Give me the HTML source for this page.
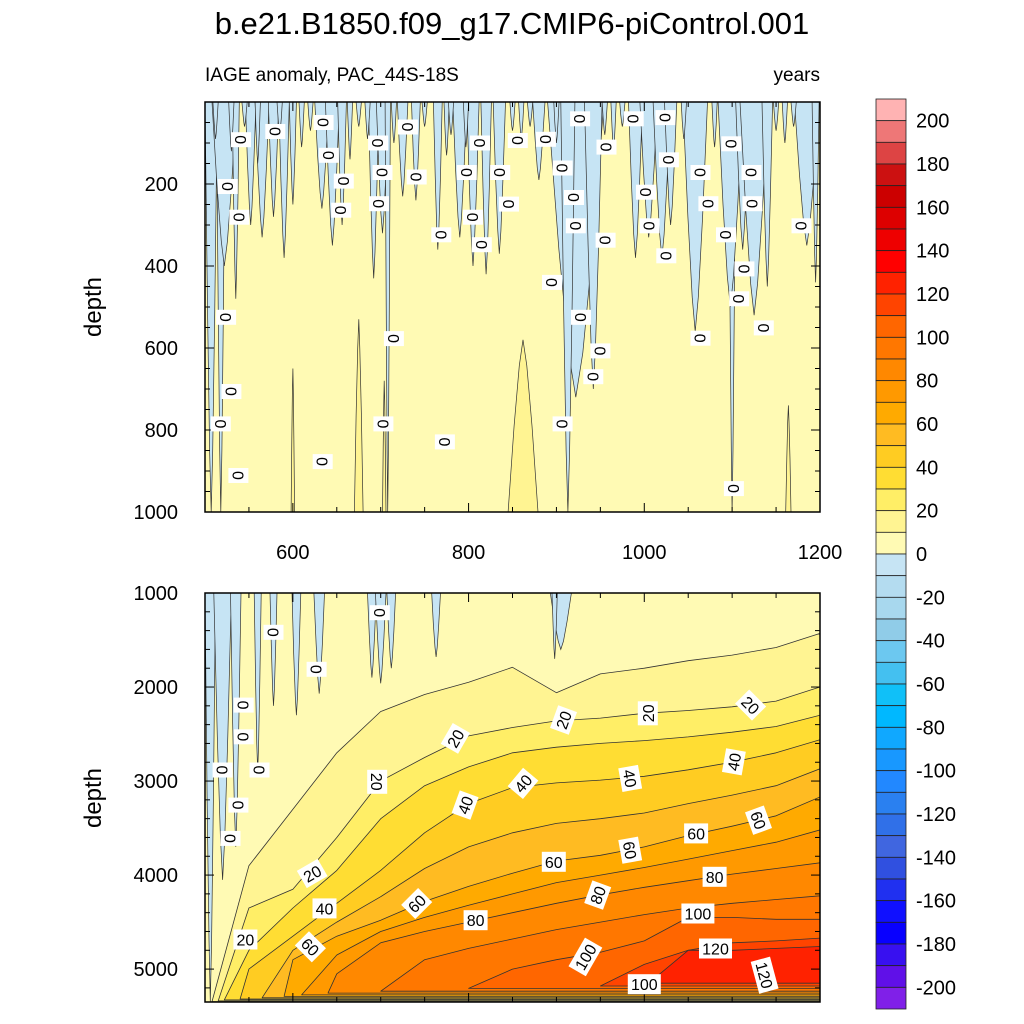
<!DOCTYPE html>
<html><head><meta charset="utf-8"><style>
html,body{margin:0;padding:0;background:#fff}
svg{display:block;font-family:"Liberation Sans",sans-serif}
</style></head><body>
<svg id="chart" width="1024" height="1024" viewBox="0 0 1024 1024" xmlns="http://www.w3.org/2000/svg">
<text x="512" y="34" font-size="31" text-anchor="middle">b.e21.B1850.f09_g17.CMIP6-piControl.001</text>
<text x="205" y="81" font-size="19">IAGE anomaly, PAC_44S-18S</text>
<text x="820" y="81" font-size="19" text-anchor="end">years</text>
<text transform="translate(101,307) rotate(-90)" font-size="24" text-anchor="middle">depth</text>
<text transform="translate(101,798) rotate(-90)" font-size="24" text-anchor="middle">depth</text>
<defs>
<clipPath id="clipTop"><rect x="205" y="102" width="615" height="410"/></clipPath>
<clipPath id="clipBot"><rect x="205" y="593" width="615" height="409"/></clipPath>
</defs>
<g id="topPlot" clip-path="url(#clipTop)"></g>
<g id="botPlot" clip-path="url(#clipBot)"></g>
<g id="axes"></g>
<g id="labels"></g>
<g id="cbar"></g>
</svg>
<script>
// ---- data ----
const years = [500,550,600,650,700,750,800,850,900,950,1000,1050,1100,1150,1200];
const levels = [10,20,30,40,50,60,70,80,90,100,110,120];
const startYear = [508,515,522,540,565,590,610,640,700,800,950,1005];
const upper10 = [null,3900,3300,2700,2260,2080,1950,1790,2060,1860,1800,1720,1660,1580,1430];
const upper20 = [null,4350,4150,3600,3000,2750,2520,2430,2360,2330,2280,2250,2210,2150,2000];
const upper30 = [null,4800,4350,3950,3400,3050,2850,2700,2640,2600,2570,2530,2480,2420,2300];
const upper40 = [null,5000,4650,4300,3950,3550,3240,3070,3020,2990,2950,2880,2800,2700,2560];
const upper50 = [null,null,4800,4500,4230,3930,3700,3550,3450,3400,3340,3240,3150,3050,2870];
const upper60 = [null,null,4900,4650,4480,4280,4120,3980,3850,3790,3700,3580,3480,3370,3170];
const upper70 = [null,null,null,4850,4600,4450,4320,4200,4080,4000,3920,3830,3740,3650,3520];
const upper80 = [null,null,null,5050,4720,4600,4500,4400,4300,4210,4130,4060,3990,3930,3870];
const upper90 = [null,null,null,null,5150,4900,4780,4680,4580,4500,4420,4350,4300,4260,4220];
const upper100 = [null,null,null,null,null,null,5150,5000,4900,4820,4700,4450,4450,4470,4470];
const upper110 = [null,null,null,null,null,null,null,null,null,5150,4950,4800,4720,4700,4670];
const upper120 = [null,null,null,null,null,null,null,null,null,null,5150,4800,4800,4780,4760];
const lowerDepth = [5346,5338,5328,5318,5305,5290,5275,5255,5235,5205,5180,5150];
const upperAll = [upper10,upper20,upper30,upper40,upper50,upper60,upper70,upper80,upper90,upper100,upper110,upper120];

// top panel negative (blue) features: center year, half width (years), max depth
const topBlueYear  = [507,518,522,535,552,565,578,590,600,633,645,656,692,702,708,725,740,765,790,805,820,835,880,922,913,942,990,1005,1020,1030,1058,1100,1098,1112,1125,1140,1185,1195,512,530,545,560,585,610,620,665,675,685,715,750,775,780,797,850,860,870,900,955,965,975,1045,1080,1150,1160,1170];
const topBlueHalf  = [7,5,14,4,6,8,6,6,4,8,8,5,6,7,3,6,5,5,8,7,6,7,7,32,8,10,8,10,10,7,14,4,14,8,16,6,14,4,3,3,3,3,3,3,3,3,3,3,3,3,3,3,3,3,3,3,3,3,3,3,3,3,3,3,3];
const topBlueDepth = [1000,1000,400,480,300,330,280,380,250,260,350,300,430,320,1000,230,240,360,330,400,420,370,190,720,1000,700,380,330,380,300,560,1000,500,360,520,450,350,440,90,120,60,150,80,110,70,140,60,90,100,60,130,80,110,70,90,60,100,80,120,60,90,110,70,100,60];
// top panel 10-20 patches rising from bottom: center, half width, top depth
const topYelYear  = [600,675,704,862,1164];
const topYelHalf  = [2,5,2,17,3];
const topYelDepth = [650,530,680,580,740];
// bottom panel negative features from 1000m down
const botBlueYear  = [506,520,535,560,578,604,630,690,700,712,763,905,898];
const botBlueHalf  = [6,10,6,4,4,5,6,5,6,5,5,12,3];
const botBlueDepth = [5350,4050,3700,2900,2200,2300,2070,1900,1960,1800,1680,1600,1700];

// contour labels
const topLabYear  = [541,580,635,641,658,655,697,702,698,731,741,526,539,769,798,813,805,815,836,846,856,888,907,927,920,922,957,956,988,1024,1028,1002,1006,1025,1064,1073,1099,1122,1123,1093,1114,1108,1064,1136,1179,895,928,950,942,907,524,530,518,538,715,703,773,634,1102];
const topLabDepth = [92,72,50,130,193,264,100,172,248,61,183,206,281,324,172,100,281,348,172,249,94,91,161,41,233,302,110,337,41,38,141,220,302,375,172,248,102,172,248,324,407,480,576,551,302,440,525,607,670,785,525,706,785,911,577,785,829,877,943];
const botLabYear  = [578,627,699,544,544,562,520,538,529, 622,696,785,908,1004,1121,546, 636,796,862,984,1102, 620,741,897,984,1059,1130, 808,947,1080, 1061,933,1000, 1081,1137];
const botLabDepth = [1418,1812,1209,2192,2529,2883,2883,3256,3610, 3983,3008,2546,2351,2280,2192,4685, 4355,3256,3025,2972,2795, 4763,4302,3859,3735,3557,3416, 4480,4213,4018, 4409,4870,5161, 4781,5065];
const botLabText  = ["0","0","0","0","0","0","0","0","0", "20","20","20","20","20","20","20", "40","40","40","40","40", "60","60","60","60","60","60", "80","80","80", "100","100","100", "120","120"];
const botLabAngle = [90,90,90,90,90,90,90,90,90, -30,90,-60,-70,-90,45,0, 0,-70,-50,80,-80, 45,-45,0,80,0,70, 0,-70,0, 0,-60,0, 0,75];

const cbLabels = [200,180,160,140,120,100,80,60,40,20,0,-20,-40,-60,-80,-100,-120,-140,-160,-180,-200];
const cbColors = ["#ffb3b3","#ee7777","#dd4444","#cc1111","#cc0000","#dd0000","#ee0000","#ff0000","#ff2200","#ff4400","#ff6600","#ff7700","#ff8800","#ff9900","#ffaa00","#ffbb22","#ffcc22","#ffdd33","#ffee66","#fff492","#fffab4",
"#c6e4f4","#b4dcf0","#a8d8ee","#90cce8","#6cc8f0","#44c0f0","#10c0f8","#00b8ff","#10a8ff","#1898ff","#2288ff","#2a80f0","#3070e8","#4066e0","#3050e0","#2030f0","#1010ff","#0800ff","#3810f0","#6010e8","#8020e8"];

// ---- scales ----
const X0=205,X1=820;
const xS = yr => X0 + (yr-500)*(X1-X0)/700;
const yT = d => 102 + d*410/1000;
const yB = d => 593 + (d-1000)*409/4350;
const NS="http://www.w3.org/2000/svg";
function mk(tag, attrs, parent){const e=document.createElementNS(NS,tag);for(const k in attrs)e.setAttribute(k,attrs[k]);parent.appendChild(e);return e;}
const levelColor = lv => cbColors[20 - lv/10];
const BLUE = cbColors[21];
const BASE = cbColors[20];

function spikePts(c,h,d,ys,fromD){
  const f = t => fromD + (d-fromD)*t;
  return [[c-h,fromD],[c-0.6*h,f(0.5)],[c-0.25*h,f(0.85)],[c,d],[c+0.25*h,f(0.85)],[c+0.6*h,f(0.5)],[c+h,fromD]]
    .map(p=>xS(p[0]).toFixed(1)+","+ys(p[1]).toFixed(1)).join(" ");
}

// ---- top panel ----
const topG = document.getElementById('topPlot');
let rr = mk('rect',{x:205,y:102,width:615,height:410,fill:BASE},topG);


for(let i=0;i<topYelYear.length;i++){
  const p = mk('polygon',{points:spikePts(topYelYear[i],topYelHalf[i],topYelDepth[i],yT,1000),fill:levelColor(10),stroke:'#333','stroke-width':0.7},topG);
  
  
}
for(let i=0;i<topBlueYear.length;i++){
  const p = mk('polygon',{points:spikePts(topBlueYear[i],topBlueHalf[i],topBlueDepth[i],yT,0),fill:BLUE,stroke:'#333','stroke-width':0.7},topG);
  
  
}

// ---- bottom panel ----
const botG = document.getElementById('botPlot');
rr = mk('rect',{x:205,y:593,width:615,height:409,fill:BASE},botG);


for(let li=0;li<levels.length;li++){
  const up = upperAll[li];
  const pts = [[startYear[li],lowerDepth[li]]];
  for(let j=0;j<years.length;j++){ if(up[j]!==null && years[j]>startYear[li]) pts.push([years[j],up[j]]); }
  pts.push([1200,lowerDepth[li]]);
  const s = pts.map(p=>xS(p[0]).toFixed(1)+","+yB(p[1]).toFixed(1)).join(" ");
  const p = mk('polygon',{points:s,fill:levelColor(levels[li]),stroke:'#333','stroke-width':0.8,'stroke-linejoin':'round'},botG);
  
  
}
for(let i=0;i<botBlueYear.length;i++){
  const p = mk('polygon',{points:spikePts(botBlueYear[i],botBlueHalf[i],botBlueDepth[i],yB,1000),fill:BLUE,stroke:'#333','stroke-width':0.7},botG);
  
  
}

// ---- axes ----
const axG = document.getElementById('axes');
function ln(x1,y1,x2,y2,w,parent){return mk('line',{x1,y1,x2,y2,stroke:'#000','stroke-width':w},parent);}
[[102,512],[593,1002]].forEach(([t,b],pi)=>{
  const fr = mk('rect',{x:205,y:t,width:615,height:b-t,fill:'none',stroke:'#000','stroke-width':1.5},axG);
  
  
  for(let yr=500;yr<=1200;yr+=50){
    const x=xS(yr), L=(yr%200===0)?9:5;
    ln(x,t,x,t+L,1,axG); ln(x,b,x,b-L,1,axG);
  }
});
const topTicks=[200,400,600,800,1000];
for(let d=0;d<=1000;d+=50){const y=yT(d),L=(d%200===0)?9:5;ln(205,y,205+L,y,1,axG);ln(820,y,820-L,y,1,axG);}
topTicks.forEach(d=>{const t=mk('text',{x:178,y:yT(d)+7,'font-size':20,'text-anchor':'end'},axG);t.textContent=d;
  
  });
const botTicks=[1000,2000,3000,4000,5000];
for(let d=1000;d<=5350;d+=200){const y=yB(d),L=(d%1000===0)?9:5;ln(205,y,205+L,y,1,axG);ln(820,y,820-L,y,1,axG);}
botTicks.forEach(d=>{const t=mk('text',{x:178,y:yB(d)+7,'font-size':20,'text-anchor':'end'},axG);t.textContent=d;
  
  });
[600,800,1000,1200].forEach(yr=>{const t=mk('text',{x:xS(yr),y:559,'font-size':20,'text-anchor':'middle'},axG);t.textContent=yr;
  
  });

// ---- contour labels ----
const labG = document.getElementById('labels');
function addLabel(x,y,txt,ang,name){
  const g = mk('g',{transform:`translate(${x.toFixed(1)},${y.toFixed(1)}) rotate(${ang})`},labG);
  
  
  const w = txt.length*9+6;
  mk('rect',{x:-w/2,y:-10,width:w,height:20,fill:'#fff'},g);
  const t = mk('text',{x:0,y:6,'font-size':16,'text-anchor':'middle'},g); t.textContent=txt;
}
for(let i=0;i<topLabYear.length;i++) addLabel(xS(topLabYear[i]),yT(topLabDepth[i]),"0",90,'top-contour-label');
for(let i=0;i<botLabYear.length;i++) addLabel(xS(botLabYear[i]),yB(botLabDepth[i]),botLabText[i],botLabAngle[i],'bottom-contour-label');

// ---- colorbar ----
const cbG = document.getElementById('cbar');
const cbTop=99, cbH=(1009-99)/42;
for(let i=0;i<42;i++){
  const b = mk('rect',{x:876,y:cbTop+i*cbH,width:30,height:cbH,fill:cbColors[i],stroke:'#222','stroke-width':0.8},cbG);
  
  
}
for(let i=0;i<cbLabels.length;i++){
  const y = cbTop + (1+2*i)*cbH;
  const t = mk('text',{x:916,y:y+7,'font-size':20},cbG); t.textContent=cbLabels[i];
  
  
}
</script>
</body></html>
